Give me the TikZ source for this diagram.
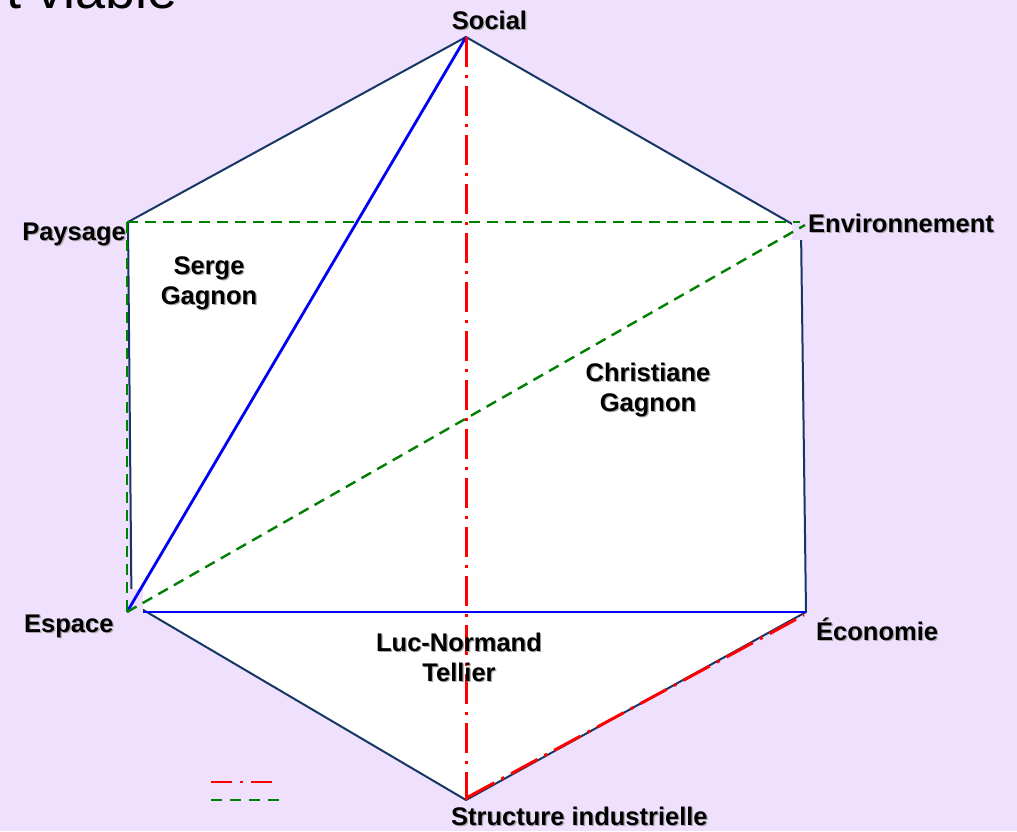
\documentclass[tikz,border=0pt]{standalone}
\usepackage{fontspec}
\setmainfont{Liberation Sans}
\usetikzlibrary{calc}
\definecolor{bg}{RGB}{239,224,253}
\definecolor{navy}{RGB}{22,54,100}
\definecolor{lblue}{RGB}{0,0,245}
\definecolor{dgreen}{RGB}{0,128,0}
\definecolor{lred}{RGB}{255,0,0}
\tikzset{
  edge/.style={draw=navy,line width=2pt,line join=round},
  blueline/.style={lblue,line width=2.8pt},
  greenline/.style={dgreen,line width=2.4pt,dash pattern=on 11pt off 7pt},
  redline/.style={lred,line width=3pt,dash pattern=on 30pt off 8pt on 3pt off 8pt},
  lbl/.style={font=\bfseries\fontsize{25.5}{30}\selectfont,text=black,align=center,inner sep=0pt},
  shd/.style={lbl,text=black!35},
  patch/.style={fill=bg}
}
\newcommand\lab[4]{%
  \node[shd,anchor=#3] at ($(#2)+(1.2,1.2)$) {#4};
  \node[lbl,anchor=#3] (#1) at (#2) {#4};}
\begin{document}
\begin{tikzpicture}[x=1pt,y=-1pt]
\useasboundingbox (0,0) rectangle (1017,831);
\clip (0,0) rectangle (1017,831);
\fill[bg] (0,0) rectangle (1017,831);
% title (cut off at the top edge, as in the reference)
\node[font=\fontsize{54}{60}\selectfont,anchor=base east,inner sep=0pt] (title) at (178,8) {t viable};
% vertices
\coordinate (S) at (466,37);
\coordinate (E) at (801,229);
\coordinate (Ec) at (806,612);
\coordinate (St) at (466,800);
\coordinate (Es) at (131.5,603);
\coordinate (P) at (128,222);
\coordinate (EsB) at (127,612);
\coordinate (EsH) at (130,612);
\coordinate (Pg) at (127,222);
\coordinate (Eg) at (800,222);
\coordinate (Er) at (805,225);
\coordinate (StR) at (468,797);
\coordinate (EcR) at (804,615);
% hexagon
\filldraw[edge,fill=white] (P) -- (S) -- (E) -- (Ec) -- (St) -- (Es) -- cycle;
\draw[blueline] (EsH) -- (Ec);
% label backgrounds covering the corners
\fill[patch] (119,589) rectangle (143,613.5);
\fill[patch] (792,206) rectangle (1012,240);
% lines
\draw[blueline] (S) -- (EsB);
\draw[greenline] (Pg) -- (Eg);
\draw[greenline] (EsB) -- (Er);
\draw[greenline] (Pg) -- (EsB);
\draw[redline] (S) -- (St);
\draw[redline] (StR) -- (EcR);
% labels
\lab{social}{489.5,29}{base}{Social}
\lab{paysage}{126,240}{base east}{Paysage}
\lab{env}{808,232}{base west}{Environnement}
\lab{espace}{24,632}{base west}{Espace}
\lab{eco}{816,640}{base west}{Économie}
\lab{struct}{451,825}{base west}{Structure industrielle}
\lab{serge}{209,283.5}{center}{Serge\\Gagnon}
\lab{christiane}{648,389.5}{center}{Christiane\\Gagnon}
\lab{luc}{459,657.5}{center}{Luc-Normand\\Tellier}
% legend
\coordinate (r1) at (211,782);
\coordinate (r2) at (274,782);
\coordinate (g1) at (211,800);
\coordinate (g2) at (279,800);
\draw[lred,line width=2.8pt,dash pattern=on 21pt off 8pt on 3pt off 8pt] (r1) -- (r2);
\draw[dgreen,line width=2.4pt,dash pattern=on 11pt off 8pt] (g1) -- (g2);
\end{tikzpicture}
\end{document}
